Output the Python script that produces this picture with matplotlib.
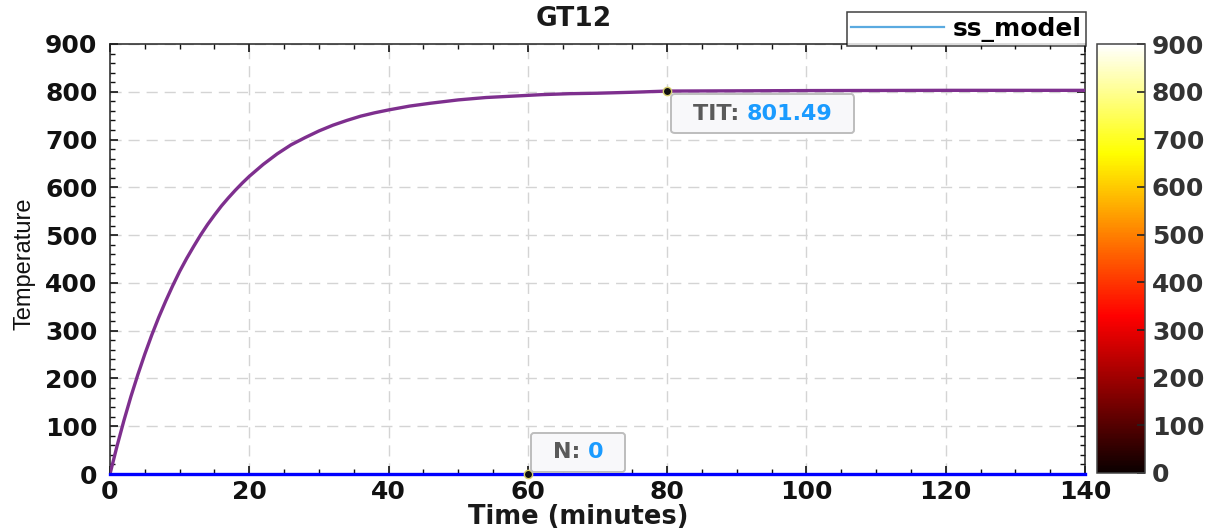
import numpy as np
import matplotlib
matplotlib.use('Agg')
import matplotlib.pyplot as plt
from matplotlib.lines import Line2D
from matplotlib.ticker import MultipleLocator
from matplotlib.offsetbox import TextArea, HPacker, DrawingArea, AnnotationBbox
import matplotlib.cm as cm
from matplotlib.colors import Normalize

# ─── Data ────────────────────────────────────────────────────────────────────
time_min = [0, 1, 2, 3, 4, 5, 6, 7, 8, 9, 10, 11, 12, 13, 14, 15, 16, 17, 18,
            19, 20, 22, 24, 26, 28, 30, 32, 34, 36, 38, 40, 43, 46, 50, 54,
            58, 62, 66, 70, 75, 80, 90, 100, 120, 140]
tit_temp = [0, 58, 112, 162, 208, 251, 291, 328, 362, 394, 424, 451, 476,
            500, 522, 542, 561, 578, 594, 609, 623, 648, 670, 689, 704, 718,
            730, 740, 749, 756, 762, 770, 776, 783, 788, 791, 794, 796, 797,
            799, 801.49, 802, 802.5, 803, 803]
n_time = [0, 140]
n_speed = [0, 0]

tip_tit = (80, 801.49)
tip_n = (60, 0)

TITLE = 'GT12'
LEGEND_LABEL = 'ss_model'
CBAR_TICKS = list(range(0, 1000, 100))

PURPLE = '#7E2F8E'
BLUE = '#0000FF'
LEGEND_BLUE = '#5AAAE0'
TIP_BLUE = '#1A9BFF'
TIP_GRAY = '#5A5A5A'

BOLD = dict(family='DejaVu Sans', weight='bold')
PX = 72 / 100  # points per pixel at dpi=100

# ─── Figure ──────────────────────────────────────────────────────────────────
fig = plt.figure(figsize=(12.21, 5.28), dpi=100)
fig.patch.set_facecolor('white')
ax = fig.add_axes([110 / 1221, 1 - 474 / 528, 975 / 1221, 430 / 528])

ax.plot(time_min, tit_temp, color=PURPLE, lw=2.4, solid_joinstyle='round', zorder=3)
ax.plot(n_time, n_speed, color=BLUE, lw=2.4, clip_on=False, zorder=4)

ax.set_xlim(0, 140)
ax.set_ylim(0, 900)
ax.xaxis.set_major_locator(MultipleLocator(20))
ax.xaxis.set_minor_locator(MultipleLocator(5))
ax.yaxis.set_major_locator(MultipleLocator(100))
ax.yaxis.set_minor_locator(MultipleLocator(20))

ax.grid(True, which='major', ls=(0, (8, 5)), color='#D4D4D4', lw=1.0, zorder=0)
ax.tick_params(which='both', direction='in', top=True, right=True, color='#111111')
ax.tick_params(which='major', length=6, width=1.2)
ax.tick_params(which='minor', length=3.5, width=1.0)
ax.tick_params(axis='y', pad=9)
ax.tick_params(axis='x', pad=4)
for lbl in ax.get_xticklabels() + ax.get_yticklabels():
    lbl.set_fontproperties(dict(BOLD, size=18))
    lbl.set_color('#111111')
for sp in ax.spines.values():
    sp.set_color('#222222')
    sp.set_linewidth(1.1)

# Labels and title
fig.text(574 / 1221, 1 - 19 / 528, TITLE, ha='center', va='center',
         fontsize=19, color='#1a1a1a', **BOLD)
fig.text(578 / 1221, 1 - 517 / 528, 'Time (minutes)', ha='center', va='center',
         fontsize=18.5, color='#1a1a1a', **BOLD)
fig.text(24 / 1221, 1 - 264 / 528, 'Temperature', ha='center', va='center',
         rotation=90, fontsize=17, color='#111111',
         family=['Liberation Sans Narrow', 'Liberation Sans', 'DejaVu Sans'])

# Legend, right edge flush with the axes box
handle = Line2D([], [], color=LEGEND_BLUE, lw=1.6)
leg = fig.legend([handle], [LEGEND_LABEL], loc='upper right',
                 bbox_to_anchor=(1086 / 1221, 1 - 12 / 528),
                 prop=dict(BOLD, size=18), frameon=True, fancybox=False,
                 handlelength=3.7, handletextpad=0.35, borderpad=0.18,
                 borderaxespad=0)
leg.get_frame().set_edgecolor('#111111')
leg.get_frame().set_linewidth(1.1)

# Data tips
PAD_PX = 9.7
SIDE_PX = 12


def data_tip(xy, name, value, align, gap_px):
    ax.plot(*xy, 'o', ms=6, mfc='#111111', mec='#D8D070', mew=1.0,
            clip_on=False, zorder=6)
    parts = HPacker(children=[
        DrawingArea(SIDE_PX * PX, 0),
        TextArea(f'{name}: ', textprops=dict(color=TIP_GRAY, fontsize=16, **BOLD)),
        TextArea(value, textprops=dict(color=TIP_BLUE, fontsize=16, **BOLD)),
        DrawingArea(SIDE_PX * PX, 0),
    ], pad=0, sep=0)
    dx = (gap_px[0] + PAD_PX) * PX
    dy = (gap_px[1] + PAD_PX) * PX * (1 if align[1] == 0 else -1)
    ab = AnnotationBbox(parts, xy, xybox=(dx, dy), xycoords='data',
                        boxcoords='offset points', box_alignment=align,
                        frameon=True, zorder=7,
                        bboxprops=dict(boxstyle='round,pad=0.7,rounding_size=0.25',
                                       fc='#F8F8FA', ec='#BDBDBD', lw=1.4))
    ab.set_clip_on(False)
    ax.add_artist(ab)


data_tip(tip_tit, 'TIT', f'{tip_tit[1]:.2f}', (0, 1), (4, 3))
data_tip(tip_n, 'N', f'{tip_n[1]:g}', (0, 0), (3, 2))

# Colorbar
cax = fig.add_axes([1097 / 1221, 1 - 473 / 528, 48 / 1221, 429 / 528])
sm = cm.ScalarMappable(norm=Normalize(0, 900), cmap='hot')
cb = fig.colorbar(sm, cax=cax, ticks=CBAR_TICKS)
cb.outline.set_edgecolor('#444444')
cb.outline.set_linewidth(1.1)
cax.tick_params(direction='in', length=6, width=1.2, color='#222222', pad=5)
for lbl in cax.get_yticklabels():
    lbl.set_fontproperties(dict(BOLD, size=18))
    lbl.set_color('#333333')

fig.savefig('out.png', dpi=100, facecolor='white')
